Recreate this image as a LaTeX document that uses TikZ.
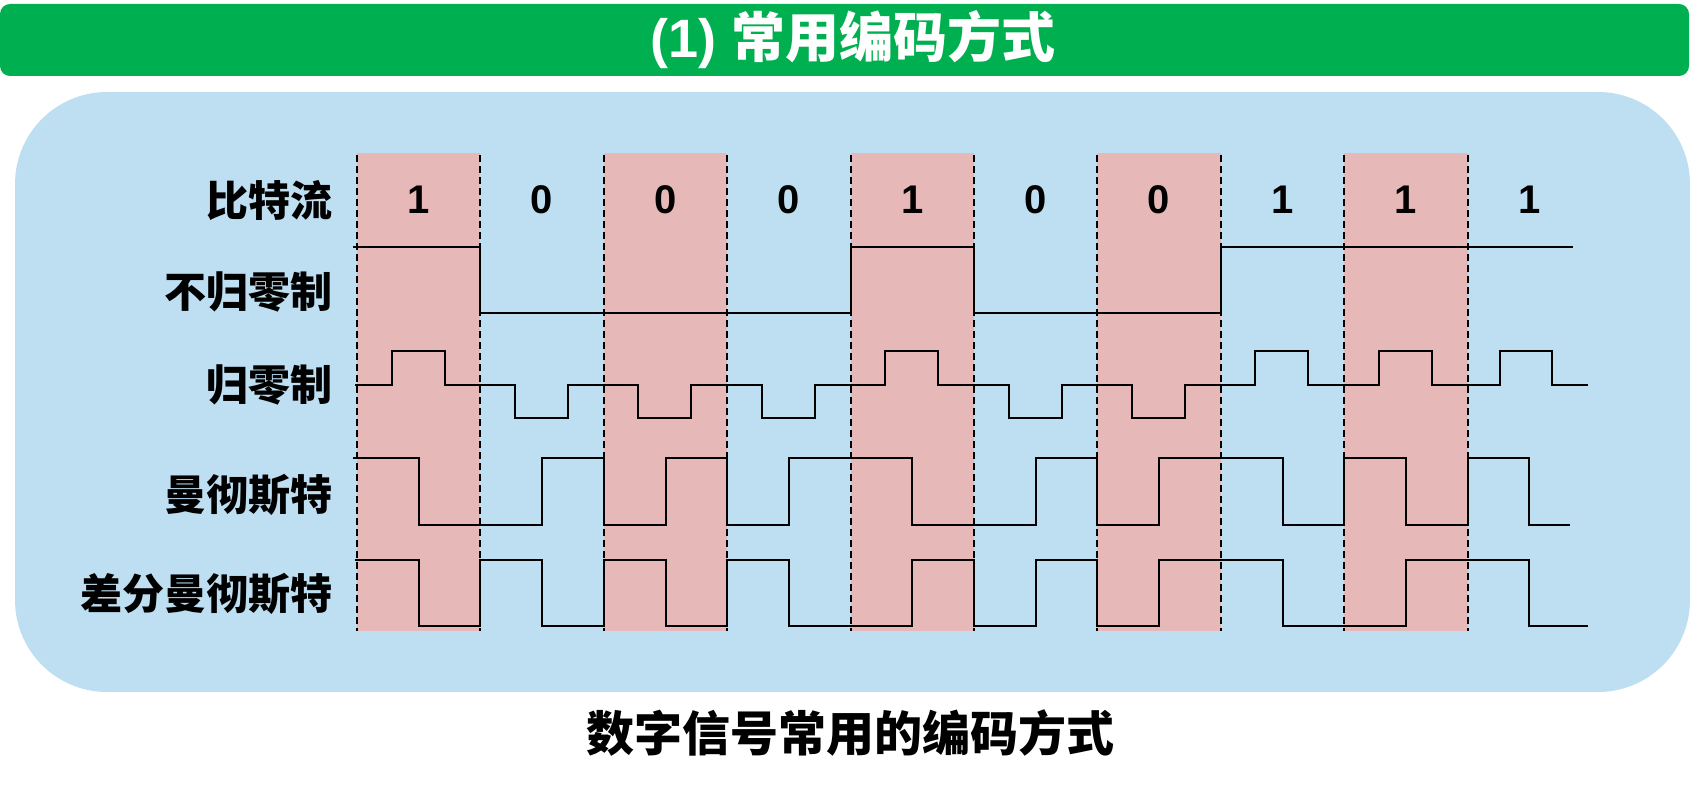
\documentclass[tikz,border=0pt]{standalone}
\usepackage{fontspec}
\setmainfont{Liberation Sans}
\newfontfamily\cjk{Noto Sans CJK SC}
\definecolor{greenc}{RGB}{0,176,80}
\definecolor{bluec}{RGB}{190,222,242}
\definecolor{pinkc}{RGB}{230,184,183}
\begin{document}
\begin{tikzpicture}[x=1pt,y=-1pt,
  lbl/.style={anchor=east,inner sep=0pt,font=\cjk\bfseries\fontsize{42}{42}\selectfont},
  bitlbl/.style={inner sep=0pt,font=\bfseries\fontsize{40}{40}\selectfont},
  sig/.style={draw=black,line width=2pt,line join=miter},
  gridline/.style={draw=black,line width=2pt,dash pattern=on 7pt off 4pt},
  shadecol/.style={fill=pinkc}]
\useasboundingbox (0,0) rectangle (1708,789);
% title bar
\fill[greenc, rounded corners=10pt] (0,4) rectangle (1689,76);
\node[inner sep=0pt,text=white,font=\bfseries\fontsize{54}{54}\selectfont] (title) at (853,40) {(1) {\cjk\bfseries 常用编码方式}};
% panel
\fill[bluec, rounded corners=92pt] (15,92) rectangle (1690,692);
% shaded bit columns
\foreach \k in {0,2,4,6,8}
  \fill[shadecol] ({357+123.4*\k},153) rectangle ({357+123.4*(\k+1)},631);
% dashed bit boundaries
\foreach \k in {0,...,9}
  \draw[gridline] ({357+123.4*\k},155) -- ({357+123.4*\k},631);
% bit values
\foreach \b [count=\i from 0] in {1,0,0,0,1,0,0,1,1,1}
  \node[bitlbl] (bit\i) at ({357+123.4*(\i+0.5)},200) {\b};
% row labels
\node[lbl] (l1) at (333,201) {比特流};
\node[lbl] (l2) at (333,292) {不归零制};
\node[lbl] (l3) at (333,385) {归零制};
\node[lbl] (l4) at (333,495) {曼彻斯特};
\node[lbl] (l5) at (333,594) {差分曼彻斯特};
% NRZ
\draw[sig] (353,246.7) -- (480.4,246.7) -- (480.4,313.3) -- (850.6,313.3) -- (850.6,246.7) -- (974,246.7) -- (974,313.3) -- (1220.8,313.3) -- (1220.8,246.7) -- (1573,246.7);
% RZ
\draw[sig] (355,385) -- (391.6,385) -- (391.6,350.7) -- (444.6,350.7) -- (444.6,385) -- (515,385) -- (515,418.3) -- (568,418.3) -- (568,385) -- (638.4,385) -- (638.4,418.3) -- (691.4,418.3) -- (691.4,385) -- (761.8,385) -- (761.8,418.3) -- (814.8,418.3) -- (814.8,385) -- (885.2,385) -- (885.2,350.7) -- (938.2,350.7) -- (938.2,385) -- (1008.6,385) -- (1008.6,418.3) -- (1061.6,418.3) -- (1061.6,385) -- (1132,385) -- (1132,418.3) -- (1185,418.3) -- (1185,385) -- (1255.4,385) -- (1255.4,350.7) -- (1308.4,350.7) -- (1308.4,385) -- (1378.8,385) -- (1378.8,350.7) -- (1431.8,350.7) -- (1431.8,385) -- (1500,385) -- (1500,350.7) -- (1552,350.7) -- (1552,385) -- (1588,385);
% Manchester
\draw[sig] (353,458.3) -- (418.7,458.3) -- (418.7,524.7) -- (542.1,524.7) -- (542.1,458.3) -- (603.8,458.3) -- (603.8,524.7) -- (665.5,524.7) -- (665.5,458.3) -- (727.2,458.3) -- (727.2,524.7) -- (788.9,524.7) -- (788.9,458.3) -- (912.3,458.3) -- (912.3,524.7) -- (1035.7,524.7) -- (1035.7,458.3) -- (1097.4,458.3) -- (1097.4,524.7) -- (1159.1,524.7) -- (1159.1,458.3) -- (1282.5,458.3) -- (1282.5,524.7) -- (1344.2,524.7) -- (1344.2,458.3) -- (1405.9,458.3) -- (1405.9,524.7) -- (1467.6,524.7) -- (1467.6,458.3) -- (1529.3,458.3) -- (1529.3,524.7) -- (1570,524.7);
% Differential Manchester
\draw[sig] (355,560) -- (418.7,560) -- (418.7,625.7) -- (480.4,625.7) -- (480.4,560) -- (542.1,560) -- (542.1,625.7) -- (603.8,625.7) -- (603.8,560) -- (665.5,560) -- (665.5,625.7) -- (727.2,625.7) -- (727.2,560) -- (788.9,560) -- (788.9,625.7) -- (912.3,625.7) -- (912.3,560) -- (974,560) -- (974,625.7) -- (1035.7,625.7) -- (1035.7,560) -- (1097.4,560) -- (1097.4,625.7) -- (1159.1,625.7) -- (1159.1,560) -- (1282.5,560) -- (1282.5,625.7) -- (1405.9,625.7) -- (1405.9,560) -- (1529.3,560) -- (1529.3,625.7) -- (1588,625.7);
% caption
\node[inner sep=0pt,font=\cjk\bfseries\fontsize{48}{48}\selectfont] (caption) at (850,733) {数字信号常用的编码方式};
\end{tikzpicture}
\end{document}
